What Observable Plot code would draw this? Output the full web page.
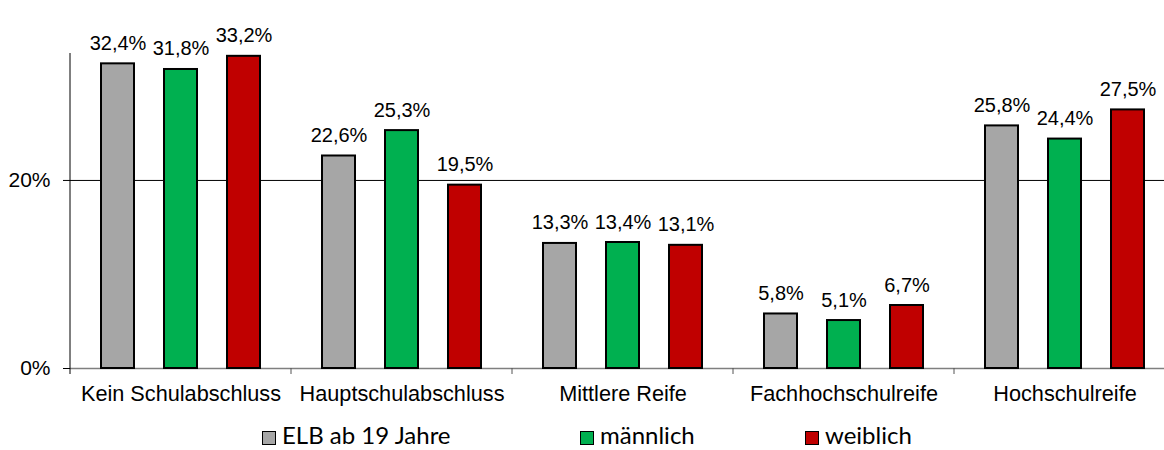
<!DOCTYPE html>
<html>
<head>
<meta charset="utf-8">
<script src="https://cdn.jsdelivr.net/npm/d3@7"></script>
<script src="https://cdn.jsdelivr.net/npm/@observablehq/plot@0.6"></script>
<style>
  html, body { margin: 0; padding: 0; background: white; }
  #chart { width: 1164px; height: 450px; position: relative; overflow: hidden; }
  #legend { position: absolute; left: 0; top: 423px; width: 1164px; height: 25px;
            font-family: Lato, "Open Sans", sans-serif; font-size: 24px; color: #000; }
  .item { position: absolute; top: 0; display: flex; align-items: center; white-space: nowrap; line-height: 24px; height: 24px; }
  .sw { width: 12px; height: 12px; border: 1.5px solid #000; margin-right: 6px; position: relative; top: 3px; }
</style>
</head>
<body>
<div id="chart"></div>
<script>
const categories = ["Kein Schulabschluss", "Hauptschulabschluss", "Mittlere Reife", "Fachhochschulreife", "Hochschulreife"];
const seriesNames = ["ELB ab 19 Jahre", "männlich", "weiblich"];
const seriesColors = ["#A6A6A6", "#00B050", "#C00000"];
const valuesELB = [32.4, 22.6, 13.3, 5.8, 25.8];
const valuesMale = [31.8, 25.3, 13.4, 5.1, 24.4];
const valuesFemale = [33.2, 19.5, 13.1, 6.7, 27.5];
const yTicks = [0, 20];

const seriesValues = [valuesELB, valuesMale, valuesFemale];
const data = [];
categories.forEach((c, i) => {
  seriesNames.forEach((s, j) => data.push({category: c, series: s, value: seriesValues[j][i]}));
});
const fmt = v => v.toFixed(1).replace(".", ",") + "%";

const W = 1164, H = 410;
const plot = Plot.plot({
  width: W,
  height: H,
  marginLeft: 70,
  marginRight: 0,
  marginTop: 53,
  marginBottom: 42,
  style: {fontFamily: "'Liberation Sans', Arial, sans-serif", fontSize: "21px", background: "white", color: "#000"},
  fx: {domain: categories, padding: 0, range: [70, 1175], label: null},
  x: {domain: seriesNames, padding: 0.48, axis: null},
  y: {domain: [0, 33.5], label: null},
  color: {domain: seriesNames, range: seriesColors},
  marks: [
    Plot.axisY(yTicks, {tickFormat: d => d + "%", tickSize: 7, tickPadding: 13, fontSize: 21, label: null, stroke: "#000"}),
    Plot.axisFx({anchor: "bottom", tickSize: 0, tickPadding: 17, fontSize: 21.7, label: null}),
    Plot.ruleY([20], {stroke: "#000", strokeWidth: 1}),
    Plot.ruleY([0], {stroke: "#7f7f7f", strokeWidth: 1.5}),
    Plot.barY(data, {fx: "category", x: "series", y: "value", fill: "series", stroke: "#000", strokeWidth: 2, inset: 0}),
    Plot.text(data, {fx: "category", x: "series", y: "value", text: d => fmt(d.value), lineAnchor: "bottom", dy: -14, fontSize: 20, fill: "#000"})
  ]
});

document.getElementById("chart").appendChild(plot);

// y axis line and category boundary ticks, positioned through Plot's scales
const fx = plot.scale("fx"), y = plot.scale("y");
const svg = d3.select(plot);
const y0 = y.apply(0), yTop = y.apply(y.domain[1]);
const bounds = categories.map(c => fx.apply(c)).concat([fx.apply(categories[categories.length - 1]) + fx.bandwidth]);
svg.append("line").attr("x1", bounds[0]).attr("x2", bounds[0]).attr("y1", yTop).attr("y2", y0 + 6)
  .attr("stroke", "#000").attr("stroke-width", 1);
svg.selectAll("line.bt").data(bounds.slice(1)).join("line").attr("class", "bt")
  .attr("x1", d => d).attr("x2", d => d).attr("y1", y0).attr("y2", y0 + 6)
  .attr("stroke", "#555").attr("stroke-width", 1);

// legend
const legend = d3.select("#chart").append("div").attr("id", "legend");
const legendLeft = [262, 580, 805];
seriesNames.forEach((s, i) => {
  const it = legend.append("div").attr("class", "item").style("left", legendLeft[i] + "px");
  it.append("div").attr("class", "sw").style("background", seriesColors[i]);
  it.append("span").text(s);
});
</script>
</body>
</html>
